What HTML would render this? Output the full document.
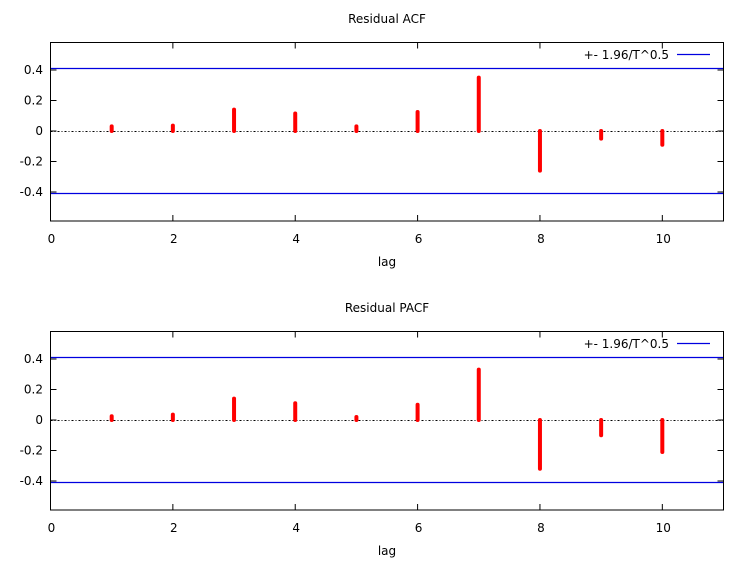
<!DOCTYPE html>
<html><head><meta charset="utf-8"><style>
body{margin:0;background:#fff}
svg text{font-family:"DejaVu Sans","Liberation Sans",sans-serif;font-size:12px;fill:#000}
</style></head><body>
<svg id="svg" width="745" height="565" xmlns="http://www.w3.org/2000/svg"></svg>
<script>
const lags=[1,2,3,4,5,6,7,8,9,10];
const acfValues=[0.03,0.035,0.14,0.115,0.03,0.125,0.35,-0.26,-0.05,-0.09];
const pacfValues=[0.025,0.035,0.14,0.11,0.02,0.1,0.33,-0.32,-0.1,-0.21];
const bound=0.41;
const xTicks=[0,2,4,6,8,10];
const yTicks=[-0.4,-0.2,0,0.2,0.4];
const titles=["Residual ACF","Residual PACF"];
const NS="http://www.w3.org/2000/svg";
const svg=document.getElementById('svg');
function mk(t,a,p){const e=document.createElementNS(NS,t);for(const k in a)e.setAttribute(k,a[k]);(p||svg).appendChild(e);return e;}
function panel(off,vals,title,idx){
  const L=50.5,R=723.5,T=42.5+off,B=221+off;
  const xs=v=>L+v*(R-L)/11;
  const z=131+off;
  const ys=v=>z-v*152.5;
  const g=mk('g',{});
  
  
  const t=mk('text',{x:387,y:23+off,'text-anchor':'middle'},g);t.textContent=title;
  
  // zero line
  const zl=mk('line',{x1:L,x2:R,y1:z+.5,y2:z+.5,stroke:'#000','stroke-dasharray':'2,2,1,2','stroke-width':1},g);
  
  // bounds
  [bound,-bound].forEach(b=>{const l=mk('line',{x1:L,x2:R,y1:ys(b),y2:ys(b),stroke:'#0000e0','stroke-width':1.3},g);
    });
  // ticks
  yTicks.forEach(v=>{const y=ys(v);
    mk('line',{x1:L,x2:L+6,y1:y,y2:y,stroke:'#000'},g);mk('line',{x1:R,x2:R-6,y1:y,y2:y,stroke:'#000'},g);
    const tx=mk('text',{x:43,y:y+4,'text-anchor':'end'},g);tx.textContent=(v===0?'0':v.toFixed(1));
    });
  xTicks.forEach(v=>{const x=xs(v);
    mk('line',{x1:x,x2:x,y1:B,y2:B-6,stroke:'#000'},g);mk('line',{x1:x,x2:x,y1:T,y2:T+6,stroke:'#000'},g);
    const tx=mk('text',{x:x+1,y:B+22,'text-anchor':'middle'},g);tx.textContent=v;
    });
  const xl=mk('text',{x:387,y:B+45,'text-anchor':'middle'},g);xl.textContent='lag';
  
  // bars
  lags.forEach((lg,i)=>{const x=xs(lg);
    const b=mk('line',{x1:x,x2:x,y1:z,y2:ys(vals[i]),stroke:'#ff0000','stroke-width':4,'stroke-linecap':'round'},g);
    });
  // frame
  mk('rect',{x:L,y:T,width:R-L,height:B-T,fill:'none',stroke:'#000','stroke-width':1},g);
  // legend
  const lt=mk('text',{x:669,y:59+off,'text-anchor':'end'},g);lt.textContent='+- 1.96/T^0.5';
  
  const ll=mk('line',{x1:677,x2:710,y1:54.5+off,y2:54.5+off,stroke:'#0000e0','stroke-width':1.3},g);
  
}
panel(0,acfValues,titles[0],0);
panel(289,pacfValues,titles[1],1);
</script>
</body></html>
